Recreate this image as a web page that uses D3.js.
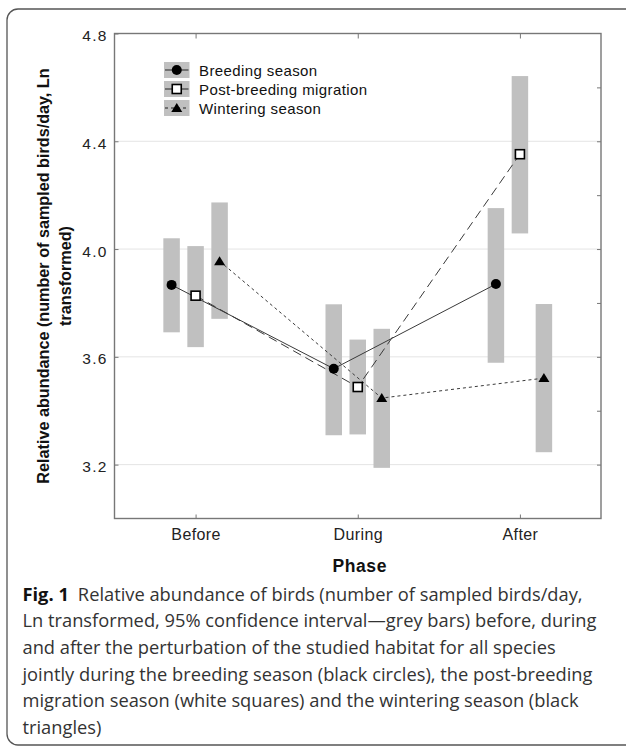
<!DOCTYPE html>
<html>
<head>
<meta charset="utf-8">
<script src="https://cdn.jsdelivr.net/npm/d3@7"></script>
<style>
  body { margin: 0; background: #fff; }
  svg { display: block; }
</style>
</head>
<body>
<svg id="chart" width="626" height="747"></svg>
<script>
const phases = ['Before', 'During', 'After']
const seriesNames = ['Breeding season', 'Post-breeding migration', 'Wintering season']

// means and 95% CI per phase (Ln transformed)
const breedingMean = [3.867, 3.556, 3.870]
const breedingLow = [3.691, 3.309, 3.578]
const breedingHigh = [4.040, 3.795, 4.152]

const postMean = [3.827, 3.488, 4.352]
const postLow = [3.636, 3.312, 4.058]
const postHigh = [4.011, 3.664, 4.642]

const winterMean = [3.955, 3.447, 3.521]
const winterLow = [3.741, 3.188, 3.246]
const winterHigh = [4.173, 3.704, 3.796]

const yTicks = [3.2, 3.6, 4.0, 4.4, 4.8]
const yMinorTicks = [3.2, 3.4, 3.6, 3.8, 4.0, 4.2, 4.4, 4.6]

const captionLines = [
  'Relative abundance of birds (number of sampled birds/day,',
  'Ln transformed, 95% confidence interval\u2014grey bars) before, during',
  'and after the perturbation of the studied habitat for all species',
  'jointly during the breeding season (black circles), the post-breeding',
  'migration season (white squares) and the wintering season (black',
  'triangles)'
]

const series = [
  { name: seriesNames[0], mean: breedingMean, low: breedingLow, high: breedingHigh, dash: null, legendDash: null, symbol: 'circle' },
  { name: seriesNames[1], mean: postMean, low: postLow, high: postHigh, dash: '9,5', legendDash: null, symbol: 'square' },
  { name: seriesNames[2], mean: winterMean, low: winterLow, high: winterHigh, dash: '3,3', legendDash: '3,3', symbol: 'triangle' }
]

const margin = { top: 33.5, right: 25, bottom: 228.5, left: 114.5 }
const W = 626, H = 747
const width = W - margin.left - margin.right
const height = H - margin.top - margin.bottom
const font = 'Liberation Sans, Arial, sans-serif'

const svg = d3.select('#chart')

// outer rounded frame
svg.append('rect')
  .attr('x', 7).attr('y', 9)
  .attr('width', 640).attr('height', 736)
  .attr('rx', 11)
  .attr('fill', 'none')
  .attr('stroke', '#555')
  .attr('stroke-width', 1.3)

const g = svg.append('g').attr('transform', `translate(${margin.left},${margin.top})`)

const x = d3.scalePoint().domain(phases).range([0, width]).padding(0.5)
const offset = d3.scalePoint().domain(seriesNames).range([-24, 24])
const y = d3.scaleLinear().domain([3.0, 4.8]).range([height, 0])

// grid
g.selectAll('.grid')
  .data(yTicks.filter(d => d < 4.8))
  .join('line')
  .attr('x1', 0).attr('x2', width)
  .attr('y1', d => y(d)).attr('y2', d => y(d))
  .attr('stroke', '#c8c8c8')
  .attr('stroke-width', 1)
  .attr('stroke-dasharray', '1,1')

// confidence bars
const barW = 16.5
series.forEach(s => {
  g.selectAll(null)
    .data(phases)
    .join('rect')
    .attr('x', (d, i) => x(d) + offset(s.name) - barW / 2)
    .attr('y', (d, i) => y(s.high[i]))
    .attr('width', barW)
    .attr('height', (d, i) => y(s.low[i]) - y(s.high[i]))
    .attr('fill', '#c0c0c0')
})

// lines
const line = d3.line()
  .x(d => d[0])
  .y(d => d[1])

series.forEach(s => {
  const pts = phases.map((p, i) => [x(p) + offset(s.name), y(s.mean[i])])
  g.append('path')
    .attr('d', line(pts))
    .attr('fill', 'none')
    .attr('stroke', '#3a3a3a')
    .attr('stroke-width', 1)
    .attr('stroke-dasharray', s.dash)
})

// markers
function drawMarker(sel, type, cx, cy) {
  if (type === 'circle') {
    sel.append('circle').attr('cx', cx).attr('cy', cy).attr('r', 5).attr('fill', '#000')
  } else if (type === 'square') {
    sel.append('rect').attr('x', cx - 4.5).attr('y', cy - 4.5).attr('width', 9).attr('height', 9)
      .attr('fill', '#fff').attr('stroke', '#000').attr('stroke-width', 1.6)
  } else {
    sel.append('path')
      .attr('d', `M${cx},${cy - 5}L${cx + 5.5},${cy + 4}L${cx - 5.5},${cy + 4}Z`)
      .attr('fill', '#000')
  }
}

series.forEach(s => {
  phases.forEach((p, i) => drawMarker(g, s.symbol, x(p) + offset(s.name), y(s.mean[i])))
})

// frame box
const axisColor = '#777'
g.append('rect')
  .attr('width', width).attr('height', height)
  .attr('fill', 'none')
  .attr('stroke', axisColor)
  .attr('stroke-width', 1.4)

// left axis
g.append('g')
  .call(d3.axisLeft(y).tickValues(yTicks).tickFormat(d3.format('.1f')).tickSize(-4).tickPadding(7))
  .call(a => a.select('.domain').remove())
  .call(a => a.selectAll('line').attr('stroke', axisColor))
  .call(a => a.selectAll('text')
    .attr('font-family', font)
    .attr('font-size', 15.5)
    .attr('letter-spacing', 1.2)
    .attr('fill', '#222')
    .attr('dy', '0.45em'))

// right axis ticks
g.append('g')
  .attr('transform', `translate(${width},0)`)
  .call(d3.axisRight(y).tickValues(yMinorTicks).tickSize(-4).tickFormat(''))
  .call(a => a.select('.domain').remove())
  .call(a => a.selectAll('line').attr('stroke', axisColor))

// bottom axis
g.append('g')
  .attr('transform', `translate(0,${height})`)
  .call(d3.axisBottom(x).tickSize(-4).tickPadding(10))
  .call(a => a.select('.domain').remove())
  .call(a => a.selectAll('line').attr('stroke', axisColor))
  .call(a => a.selectAll('text')
    .attr('font-family', font)
    .attr('font-size', 16)
    .attr('letter-spacing', 0.4)
    .attr('fill', '#222'))

// top ticks
g.append('g')
  .call(d3.axisTop(x).tickSize(-5).tickFormat(''))
  .call(a => a.select('.domain').remove())
  .call(a => a.selectAll('line').attr('stroke', axisColor))

// axis titles
g.append('text')
  .attr('x', width / 2 + 2).attr('y', height + 53)
  .attr('text-anchor', 'middle')
  .attr('font-family', font)
  .attr('font-weight', 'bold')
  .attr('font-size', 17.5)
  .attr('letter-spacing', 0.6)
  .attr('fill', '#111')
  .text('Phase')

const yTitle = g.append('text')
  .attr('transform', `translate(${-margin.left + 49},${height / 2}) rotate(-90)`)
  .attr('text-anchor', 'middle')
  .attr('font-family', font)
  .attr('font-weight', 'bold')
  .attr('font-size', 16.2)
  .attr('fill', '#111')
yTitle.append('tspan').attr('x', 0).attr('y', 0).text('Relative abundance (number of sampled birds/day, Ln')
yTitle.append('tspan').attr('x', 0).attr('y', 22).text('transformed)')

// legend
const legend = g.append('g').attr('transform', `translate(${164 - margin.left},${62 - margin.top})`)
series.forEach((s, i) => {
  const row = legend.append('g').attr('transform', `translate(0,${i * 19})`)
  row.append('rect').attr('width', 25.5).attr('height', 16).attr('fill', '#c0c0c0')
  row.append('line')
    .attr('x1', 1).attr('x2', 24.5).attr('y1', 8).attr('y2', 8)
    .attr('stroke', '#222').attr('stroke-width', 1)
    .attr('stroke-dasharray', s.legendDash)
  drawMarker(row, s.symbol, 12.75, 8)
  row.append('text')
    .attr('x', 35).attr('y', 13.5)
    .attr('font-family', font)
    .attr('font-size', 15)
    .attr('letter-spacing', 0.4)
    .attr('fill', '#111')
    .text(s.name)
})

// caption
const cap = svg.append('text')
  .attr('font-family', 'Open Sans, Noto Sans, sans-serif')
  .attr('font-size', 18.3)
  .attr('fill', '#333')
captionLines.forEach((t, i) => {
  const ln = cap.append('tspan').attr('x', 22.5).attr('y', 600.5 + i * 26.7)
  if (i === 0) {
    ln.append('tspan').attr('font-weight', 'bold').attr('fill', '#111').text('Fig. 1')
    ln.append('tspan').attr('dx', 9).text(t)
  } else {
    ln.text(t)
  }
})
</script>
</body>
</html>
